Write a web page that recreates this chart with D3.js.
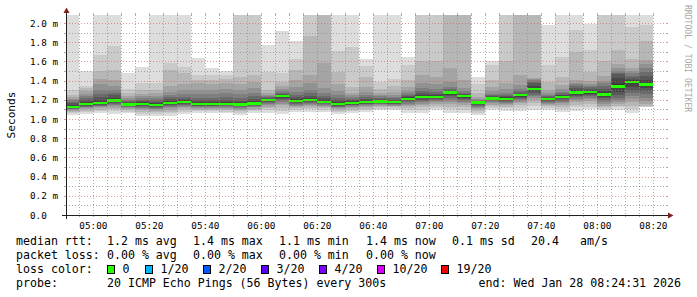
<!DOCTYPE html>
<html><head><meta charset="utf-8">
<script src="https://cdn.jsdelivr.net/npm/d3@7"></script>
<style>
html,body{margin:0;padding:0;background:#fff;}
svg{display:block;}
text{font-family:"DejaVu Sans Mono",monospace;fill:#000;}
</style></head><body>
<svg id="c" width="697" height="297"></svg>
<script>
// ---- data ----
const times = ["04:55","05:00","05:05","05:10","05:15","05:20","05:25","05:30","05:35","05:40","05:45","05:50","05:55",
  "06:00","06:05","06:10","06:15","06:20","06:25","06:30","06:35","06:40","06:45","06:50","06:55",
  "07:00","07:05","07:10","07:15","07:20","07:25","07:30","07:35","07:40","07:45","07:50","07:55",
  "08:00","08:05","08:10","08:15","08:20"];
const median = [1.128,1.156,1.167,1.193,1.149,1.156,1.146,1.168,1.175,1.156,
  1.156,1.156,1.153,1.163,1.198,1.241,1.188,1.196,1.180,1.156,
  1.168,1.179,1.184,1.175,1.210,1.231,1.231,1.278,1.238,1.170,
  1.215,1.210,1.248,1.312,1.210,1.231,1.276,1.281,1.257,1.340,
  1.387,1.361];
// 20 sorted ping rtts (ms) per step
const pings = [
 [1.040,1.058,1.071,1.082,1.091,1.099,1.106,1.113,1.119,1.124,1.14,1.15,1.165,1.18,1.195,1.21,1.225,1.25,1.30,2.3],
 [1.050,1.071,1.087,1.101,1.111,1.121,1.130,1.138,1.145,1.152,1.165,1.18,1.20,1.22,1.24,1.26,1.29,1.32,1.34,1.50],
 [1.060,1.081,1.097,1.111,1.122,1.132,1.140,1.149,1.156,1.163,1.18,1.20,1.23,1.26,1.30,1.36,1.42,1.50,1.67,2.3],
 [1.050,1.079,1.100,1.119,1.133,1.146,1.157,1.169,1.179,1.187,1.205,1.22,1.25,1.27,1.30,1.34,1.41,1.51,1.76,2.3],
 [1.060,1.078,1.091,1.103,1.112,1.120,1.127,1.134,1.140,1.145,1.155,1.165,1.175,1.185,1.20,1.22,1.24,1.27,1.31,1.48],
 [1.030,1.055,1.074,1.090,1.103,1.114,1.125,1.135,1.143,1.151,1.165,1.175,1.185,1.20,1.22,1.24,1.26,1.30,1.38,1.54],
 [1.035,1.057,1.074,1.088,1.099,1.109,1.118,1.127,1.135,1.142,1.155,1.165,1.18,1.20,1.22,1.24,1.27,1.30,1.37,2.3],
 [1.030,1.058,1.078,1.096,1.110,1.122,1.134,1.145,1.154,1.162,1.18,1.19,1.21,1.225,1.25,1.28,1.34,1.51,1.58,2.3],
 [1.050,1.075,1.094,1.110,1.123,1.134,1.144,1.154,1.163,1.170,1.185,1.195,1.21,1.23,1.26,1.30,1.36,1.48,1.545,2.3],
 [1.060,1.079,1.094,1.106,1.116,1.124,1.132,1.140,1.146,1.152,1.165,1.18,1.20,1.22,1.26,1.30,1.37,1.41,1.46,1.64],
 [1.060,1.080,1.093,1.107,1.115,1.125,1.131,1.139,1.147,1.152,1.165,1.18,1.20,1.22,1.26,1.30,1.36,1.41,1.46,1.53],
 [1.062,1.078,1.095,1.105,1.117,1.123,1.133,1.141,1.146,1.153,1.165,1.18,1.20,1.23,1.27,1.31,1.38,1.42,1.46,1.50],
 [1.040,1.063,1.080,1.094,1.106,1.116,1.125,1.134,1.142,1.148,1.16,1.175,1.19,1.22,1.26,1.30,1.36,1.44,2.2,2.5],
 [1.060,1.081,1.096,1.109,1.120,1.129,1.137,1.145,1.153,1.159,1.175,1.19,1.21,1.24,1.27,1.32,1.39,1.46,2.2,2.5],
 [1.065,1.092,1.112,1.129,1.142,1.154,1.165,1.175,1.185,1.193,1.205,1.21,1.22,1.23,1.24,1.25,1.27,1.30,1.49,1.77],
 [1.050,1.088,1.117,1.142,1.161,1.178,1.193,1.209,1.222,1.233,1.248,1.255,1.265,1.275,1.29,1.31,1.34,1.39,1.48,1.92],
 [1.070,1.094,1.111,1.127,1.138,1.149,1.159,1.168,1.176,1.183,1.195,1.21,1.23,1.25,1.28,1.33,1.41,1.51,1.63,1.81],
 [1.075,1.099,1.117,1.133,1.145,1.156,1.166,1.175,1.184,1.191,1.205,1.22,1.24,1.27,1.30,1.37,1.46,1.86,2.2,2.5],
 [1.075,1.096,1.112,1.125,1.136,1.145,1.154,1.162,1.170,1.176,1.19,1.20,1.22,1.24,1.27,1.32,1.58,2.2,2.4,2.6],
 [1.050,1.071,1.087,1.101,1.111,1.121,1.130,1.138,1.145,1.152,1.165,1.18,1.20,1.22,1.25,1.29,1.36,1.49,1.71,2.3],
 [1.060,1.082,1.098,1.112,1.123,1.132,1.141,1.150,1.157,1.164,1.175,1.185,1.195,1.21,1.225,1.245,1.27,1.33,1.75,2.3],
 [1.070,1.092,1.108,1.122,1.133,1.143,1.152,1.160,1.168,1.175,1.185,1.195,1.21,1.225,1.25,1.28,1.33,1.44,1.55,1.62],
 [1.090,1.109,1.123,1.135,1.145,1.153,1.161,1.168,1.175,1.180,1.19,1.20,1.21,1.22,1.235,1.25,1.27,1.31,1.39,2.3],
 [1.090,1.107,1.120,1.131,1.139,1.147,1.154,1.161,1.167,1.172,1.182,1.19,1.20,1.215,1.23,1.25,1.28,1.34,1.42,2.3],
 [1.060,1.090,1.113,1.132,1.147,1.161,1.173,1.185,1.195,1.204,1.215,1.225,1.235,1.25,1.27,1.29,1.33,1.41,1.56,1.65],
 [1.060,1.094,1.120,1.142,1.159,1.175,1.188,1.202,1.214,1.224,1.24,1.25,1.27,1.29,1.32,1.37,1.46,1.60,2.2,2.5],
 [1.090,1.118,1.139,1.158,1.172,1.184,1.196,1.207,1.217,1.225,1.236,1.245,1.26,1.28,1.31,1.36,1.44,1.60,2.2,2.5],
 [1.060,1.100,1.130,1.160,1.180,1.200,1.215,1.235,1.255,1.270,1.283,1.29,1.30,1.31,1.33,1.39,1.53,2.2,2.4,2.6],
 [1.060,1.096,1.122,1.145,1.163,1.179,1.194,1.208,1.220,1.231,1.243,1.25,1.26,1.27,1.29,1.32,1.41,2.2,2.4,2.6],
 [1.040,1.066,1.086,1.102,1.115,1.127,1.138,1.148,1.157,1.165,1.175,1.18,1.185,1.19,1.20,1.21,1.23,1.27,1.36,1.44],
 [1.090,1.115,1.134,1.150,1.163,1.174,1.184,1.194,1.203,1.210,1.22,1.225,1.235,1.245,1.26,1.29,1.33,1.41,1.56,1.60],
 [1.085,1.110,1.129,1.145,1.158,1.169,1.179,1.189,1.198,1.205,1.215,1.225,1.235,1.25,1.27,1.31,1.38,1.60,2.2,2.5],
 [1.085,1.118,1.142,1.163,1.180,1.194,1.207,1.220,1.232,1.241,1.253,1.26,1.27,1.29,1.31,1.35,1.46,2.2,2.4,2.6],
 [1.090,1.134,1.167,1.196,1.218,1.237,1.255,1.273,1.288,1.301,1.325,1.345,1.37,1.39,1.41,1.42,1.43,2.2,2.4,2.6],
 [1.090,1.114,1.132,1.148,1.160,1.170,1.180,1.190,1.198,1.205,1.215,1.22,1.225,1.235,1.25,1.27,1.30,1.39,1.56,1.98],
 [1.075,1.106,1.130,1.150,1.165,1.180,1.192,1.204,1.215,1.225,1.236,1.245,1.255,1.27,1.285,1.31,1.35,1.44,1.65,2.3],
 [1.085,1.120,1.150,1.175,1.195,1.210,1.225,1.240,1.255,1.268,1.285,1.30,1.32,1.34,1.36,1.38,1.41,1.70,1.93,2.3],
 [1.100,1.130,1.160,1.185,1.205,1.220,1.235,1.250,1.262,1.274,1.29,1.30,1.315,1.33,1.345,1.36,1.40,1.49,1.72,1.99],
 [1.090,1.100,1.120,1.140,1.160,1.180,1.200,1.215,1.230,1.248,1.268,1.29,1.31,1.34,1.37,1.40,1.45,1.60,2.2,2.5],
 [1.090,1.120,1.140,1.160,1.180,1.200,1.220,1.245,1.280,1.320,1.365,1.43,1.465,1.48,1.50,1.53,1.57,1.72,2.2,2.5],
 [1.060,1.100,1.140,1.180,1.205,1.240,1.270,1.295,1.330,1.370,1.395,1.41,1.43,1.45,1.48,1.50,1.53,1.63,1.96,2.3],
 [1.120,1.130,1.140,1.160,1.190,1.220,1.260,1.290,1.320,1.350,1.375,1.41,1.45,1.49,1.53,1.57,1.61,1.81,1.98,2.3]
];
const yTickValues = [0,0.2,0.4,0.6,0.8,1.0,1.2,1.4,1.6,1.8,2.0];
const yTickLabels = ["0.0","0.2 m","0.4 m","0.6 m","0.8 m","1.0 m","1.2 m","1.4 m","1.6 m","1.8 m","2.0 m"];
const xTickLabels = ["05:00","05:20","05:40","06:00","06:20","06:40","07:00","07:20","07:40","08:00","08:20"];
const lossLabels = ["0","1/20","2/20","3/20","4/20","10/20","19/20"];
const lossColors = ["#26ff00","#00b8ff","#0059ff","#5e00ff","#7e00ff","#dd00ff","#ff0000"];
const smokeShades = [221,202,183,164,145,126,107,88,69,50];
const rttStats = ["1.2 ms avg","1.4 ms max","1.1 ms min","1.4 ms now","0.1 ms sd","20.4","am/s"];
const lossStats = ["0.00 % avg","0.00 % max","0.00 % min","0.00 % now"];
const endStamp = "2026-01-28 08:24:31";

// ---- layout ----
const X0 = 66, XS = 600, Y0 = 215, YS = 200, STEP = 300; // seconds per step, 14 px
const parse = d3.timeParse("%Y-%m-%d %H:%M:%S");
const tEnd = parse(endStamp);
const tStart = new Date(tEnd.getTime() - XS * STEP / 14 * 1000);
const x = d3.scaleTime().domain([tStart, tEnd]).range([X0, X0 + XS]);
const y = d3.scaleLinear().domain([0, YS / 96]).range([Y0, Y0 - YS]);
const tOf = s => parse("2026-01-28 " + s + ":00");

const svg = d3.select("#c");
svg.append("rect").attr("width",697).attr("height",297).attr("fill","#fff");
svg.append("defs").append("clipPath").attr("id","pa")
  .append("rect").attr("x",X0).attr("y",Y0-YS).attr("width",XS).attr("height",YS);

const plot = svg.append("g").attr("clip-path","url(#pa)").attr("shape-rendering","crispEdges");
times.forEach((t, i) => {
  const te = tOf(t), ts = new Date(te.getTime() - STEP*1000);
  const p = pings[i];
  const xa = x(ts), xb = x(te);
  smokeShades.forEach((g, j) => {
    const hi = p[19-j], lo = p[j];
    plot.append("rect").attr("x", xa).attr("width", xb - xa)
      .attr("y", y(hi)).attr("height", y(lo) - y(hi))
      .attr("fill", d3.rgb(g,g,g));
  });
  plot.append("rect").attr("x", xa).attr("width", xb - xa)
    .attr("y", y(median[i]) - 1.2).attr("height", 2.4).attr("fill", lossColors[0]);
});

// ---- grid (on top) ----
const grid = svg.append("g");
const minorCol = "rgba(143,143,143,0.75)", majorCol = "rgba(222,79,79,0.6)";
const isMajorY = v => Math.abs(Math.round(v*5) - v*5) < 1e-6;
d3.range(1, 21).map(k => k/10).forEach(v => {
  const yy = Math.round(y(v)) + 0.5;
  const major = isMajorY(v);
  grid.append("line").attr("x1",X0).attr("x2",X0+XS).attr("y1",yy).attr("y2",yy)
    .attr("stroke", major?majorCol:minorCol).attr("stroke-dasharray","1,2");
  grid.append("line").attr("x1",X0-2).attr("x2",X0).attr("y1",yy).attr("y2",yy).attr("stroke", major?majorCol:minorCol);
  grid.append("line").attr("x1",X0+XS).attr("x2",X0+XS+2).attr("y1",yy).attr("y2",yy).attr("stroke", major?majorCol:minorCol);
});
d3.timeMinute.every(5).range(tStart, tEnd).forEach(t => {
  const xx = Math.round(x(t)) + 0.5;
  const major = t.getMinutes() % 20 === 0;
  grid.append("line").attr("x1",xx).attr("x2",xx).attr("y1",Y0-YS).attr("y2",Y0)
    .attr("stroke", major?majorCol:minorCol).attr("stroke-dasharray","1,2");
  grid.append("line").attr("x1",xx).attr("x2",xx).attr("y1",Y0).attr("y2",Y0+2).attr("stroke", major?majorCol:minorCol);
  grid.append("line").attr("x1",xx).attr("x2",xx).attr("y1",Y0-YS-2).attr("y2",Y0-YS).attr("stroke", major?majorCol:minorCol);
});

// ---- axes ----
const ax = svg.append("g");
ax.append("line").attr("x1",X0-4).attr("x2",X0+XS+4).attr("y1",Y0+0.5).attr("y2",Y0+0.5).attr("stroke","#1f1f1f");
ax.append("line").attr("x1",X0+0.5).attr("x2",X0+0.5).attr("y1",Y0+4).attr("y2",Y0-YS-4).attr("stroke","#1f1f1f");
ax.append("path").attr("d",`M${X0+XS+2},${Y0-2.5}L${X0+XS+2},${Y0+3.5}L${X0+XS+7.5},${Y0+0.5}Z`).attr("fill","#801f1f");
ax.append("path").attr("d",`M${X0-2.5},${Y0-YS-2}L${X0+3.5},${Y0-YS-2}L${X0+0.5},${Y0-YS-7.5}Z`).attr("fill","#801f1f");

yTickValues.forEach((v, i) => {
  ax.append("text").attr("x", 30).attr("y", y(v) + 3.5)
    .attr("font-size","9.3px").text(yTickLabels[i]);
});
xTickLabels.forEach(s => {
  ax.append("text").attr("x", x(tOf(s))).attr("y", 228.5).attr("text-anchor","middle")
    .attr("font-size","9.3px").text(s);
});
svg.append("text").attr("transform","translate(15,115) rotate(-90)").attr("text-anchor","middle")
  .attr("font-size","11.2px").text("Seconds");
svg.append("text").attr("transform","translate(685,5) rotate(90)")
  .attr("font-size","8.1px").style("fill","#a8a8a8").text("RRDTOOL / TOBI OETIKER");

// ---- legend ----
const lg = svg.append("g").attr("font-size","11.6px");
const statX = [107,193,279,366,452,531,580];
lg.append("text").attr("x",16).attr("y",245).text("median rtt:");
rttStats.forEach((s,i) => lg.append("text").attr("x",statX[i]).attr("y",245).text(s));
lg.append("text").attr("x",16).attr("y",259).text("packet loss:");
lossStats.forEach((s,i) => lg.append("text").attr("x",statX[i]).attr("y",259).text(s));
lg.append("text").attr("x",16).attr("y",273).text("loss color:");
const boxX = [107,145,203,261,319,377,441];
lossLabels.forEach((s,i) => {
  lg.append("rect").attr("x",boxX[i]+0.5).attr("y",265.5).attr("width",7).attr("height",8)
    .attr("fill",lossColors[i]).attr("stroke","#000");
  lg.append("text").attr("x",boxX[i]+15.5).attr("y",273).text(s);
});
lg.append("text").attr("x",16).attr("y",287).text("probe:");
lg.append("text").attr("x",107).attr("y",287).text("20 ICMP Echo Pings (56 Bytes) every 300s");
lg.append("text").attr("x",681).attr("y",287).attr("text-anchor","end").text("end: Wed Jan 28 08:24:31 2026");
</script>
</body></html>
